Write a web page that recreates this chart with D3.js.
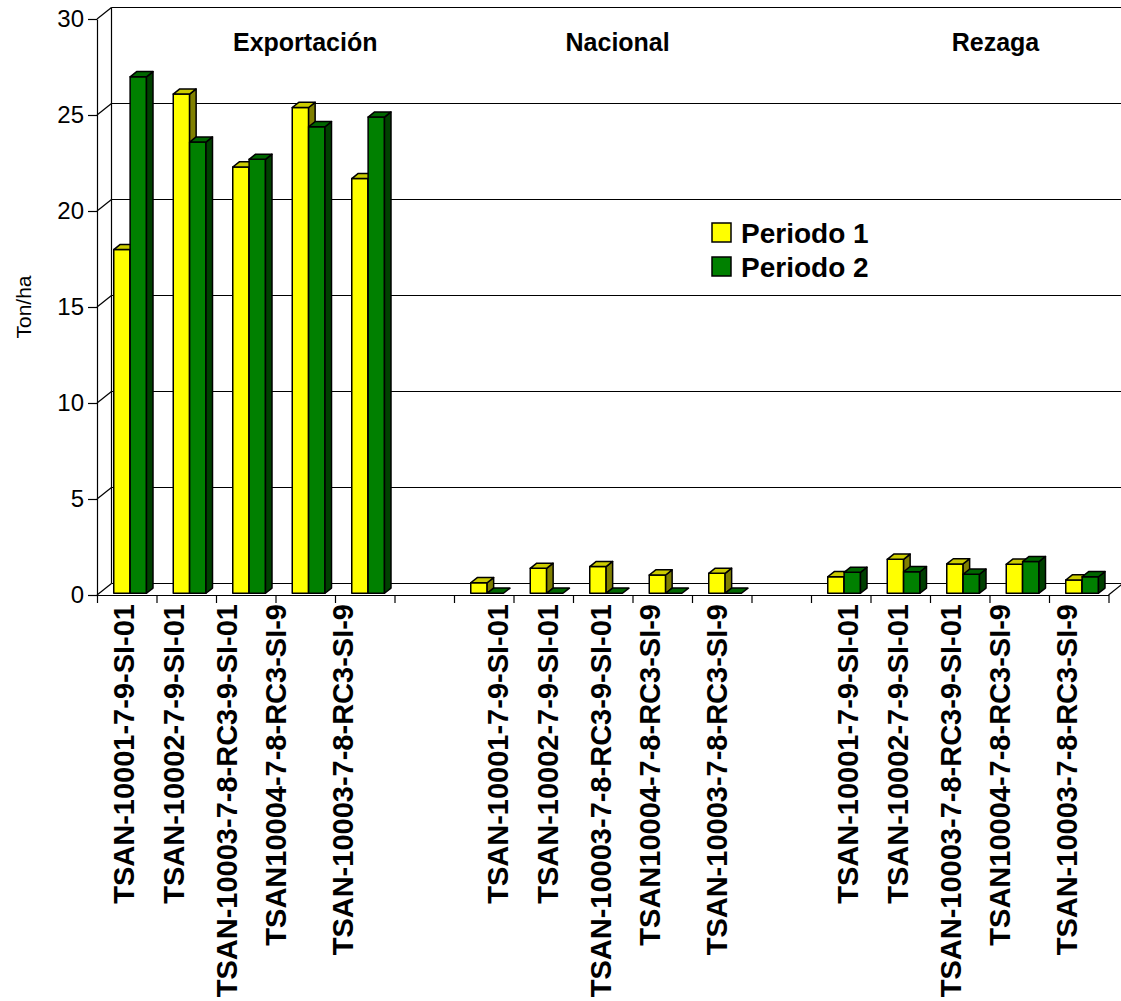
<!DOCTYPE html>
<html>
<head>
<meta charset="utf-8">
<script src="https://cdn.jsdelivr.net/npm/d3@7"></script>
<style>
  body { margin: 0; background: #fff; }
  svg { display: block; font-family: 'Liberation Sans', Arial, sans-serif; }
</style>
</head>
<body>
<div id="vis"></div>
<script>
// data
var groups = ['Exportación', 'Nacional', 'Rezaga'];
var cultivars = ['TSAN-10001-7-9-SI-01', 'TSAN-10002-7-9-SI-01', 'TSAN-10003-7-8-RC3-9-SI-01',
                 'TSAN10004-7-8-RC3-SI-9', 'TSAN-10003-7-8-RC3-SI-9'];
var seriesNames = ['Periodo 1', 'Periodo 2'];
var periodo1 = [17.9, 26.0, 22.2, 25.3, 21.6,
                0.55, 1.3, 1.39, 0.95, 1.04,
                0.86, 1.77, 1.53, 1.51, 0.69];
var periodo2 = [26.9, 23.5, 22.6, 24.3, 24.8,
                0, 0, 0, 0, 0,
                1.09, 1.12, 0.99, 1.65, 0.86];
var yTicks = [0, 5, 10, 15, 20, 25, 30];

var width = 1121, height = 1001;
var left = 97, right = 1108.5, floorY = 595, topY = 19;
var depthX = 14.5, depthY = -11.5;       // wall / floor depth
var barFront = 0.15, barBack = 0.6;      // bar depth as fraction of floor depth

// build the 17 slots (5 + gap + 5 + gap + 5)
var slots = [];
groups.forEach(function(g, gi) {
    cultivars.forEach(function(c, ci) {
        slots.push({ key: g + '|' + c, label: c, group: gi, idx: ci,
                     values: [periodo1[gi * 5 + ci], periodo2[gi * 5 + ci]] });
    });
    if (gi < groups.length - 1) slots.push({ key: 'gap' + gi, label: '', gap: true });
});

var svg = d3.select('#vis').append('svg')
            .attr('width', width)
            .attr('height', height);

var x = d3.scaleBand()
          .domain(slots.map(function(d) { return d.key; }))
          .range([left, right]);
var xs = d3.scaleLinear().domain([0, slots.length]).range([left, right]);
var y = d3.scaleLinear().domain([0, 30]).range([floorY, topY]);
var inner = d3.scaleBand().domain(seriesNames)
              .range([0.245 * x.bandwidth(), 0.795 * x.bandwidth()]);

var colors = {
    'Periodo 1': { front: '#ffff00', top: '#cccc00', side: '#808000' },
    'Periodo 2': { front: '#008000', top: '#006600', side: '#004000' }
};

// back wall gridlines
var grid = svg.append('g').attr('stroke', '#000').attr('stroke-width', 1.2).attr('fill', 'none');
grid.selectAll('line.grid').data(yTicks).enter().append('line')
    .attr('class', 'grid')
    .attr('x1', left + depthX).attr('x2', width + 2)
    .attr('y1', function(d) { return y(d) + depthY; })
    .attr('y2', function(d) { return y(d) + depthY; });
// back wall left edge
grid.append('line')
    .attr('x1', left + depthX).attr('x2', left + depthX)
    .attr('y1', y(30) + depthY).attr('y2', y(0) + depthY);
// side wall diagonals
grid.selectAll('line.diag').data(yTicks).enter().append('line')
    .attr('class', 'diag')
    .attr('x1', left).attr('y1', function(d) { return y(d); })
    .attr('x2', left + depthX).attr('y2', function(d) { return y(d) + depthY; });
// floor right edge
grid.append('line')
    .attr('x1', right).attr('y1', floorY)
    .attr('x2', right + depthX).attr('y2', floorY + depthY);

// y axis
var yAxis = d3.axisLeft(y).tickValues(yTicks).tickSize(9).tickSizeOuter(0).tickPadding(4);
var yAxisG = svg.append('g')
    .attr('transform', 'translate(' + left + ',0)')
    .call(yAxis);
yAxisG.selectAll('text').style('font-size', '24px').attr('fill', '#000');
yAxisG.selectAll('line, path').attr('stroke', '#000').attr('stroke-width', 1.2);

// x axis (ticks at slot boundaries)
var xAxis = d3.axisBottom(xs).tickValues(d3.range(slots.length + 1)).tickFormat('')
              .tickSize(8).tickSizeOuter(0);
var xAxisG = svg.append('g')
    .attr('transform', 'translate(0,' + floorY + ')')
    .call(xAxis);
xAxisG.selectAll('line, path').attr('stroke', '#000').attr('stroke-width', 1.2);

// 3d bars
var fx = barFront * depthX, fy = barFront * depthY;
var sx = (barBack - barFront) * depthX, sy = (barBack - barFront) * depthY;
var bars = [];
slots.forEach(function(s) {
    if (s.gap) return;
    seriesNames.forEach(function(n, i) {
        bars.push({ slot: s, name: n, value: s.values[i] });
    });
});

var barG = svg.append('g').attr('stroke', '#000').attr('stroke-width', 1.5)
              .attr('stroke-linejoin', 'round');
bars.forEach(function(b) {
    var x0 = x(b.slot.key) + inner(b.name) + fx;
    var x1 = x0 + inner.bandwidth();
    var y0 = y(0) + fy;
    var y1 = y(b.value) + fy;
    var c = colors[b.name];
    var g = barG.append('g');
    if (y0 - y1 > 0.5) {
        g.append('polygon').attr('fill', c.front)
         .attr('points', [[x0, y0], [x1, y0], [x1, y1], [x0, y1]].join(' '));
        g.append('polygon').attr('fill', c.side)
         .attr('points', [[x1, y0], [x1 + sx, y0 + sy], [x1 + sx, y1 + sy], [x1, y1]].join(' '));
    }
    g.append('polygon').attr('fill', c.top)
     .attr('points', [[x0, y1], [x1, y1], [x1 + sx, y1 + sy], [x0 + sx, y1 + sy]].join(' '));
});

// category labels (Excel set them slightly off centre)
var groupNudge = [-3, 14, 7];
var idxNudge = [0, -9, -16, -26, -19];
svg.append('g').selectAll('text')
    .data(slots.filter(function(d) { return !d.gap; }))
    .enter().append('text')
    .attr('transform', function(d) {
        var cx = x(d.key) + x.bandwidth() / 2 + groupNudge[d.group] + idxNudge[d.idx];
        return 'translate(' + cx + ',' + (floorY + 9) + ') rotate(-90)';
    })
    .attr('text-anchor', 'end')
    .attr('dy', '0.35em')
    .style('font-size', '29px')
    .style('font-weight', 'bold')
    .text(function(d) { return d.label; });

// group titles
var titleSlot = [3.5, 8.75, 15.1];
svg.append('g').selectAll('text')
    .data(groups)
    .enter().append('text')
    .attr('x', function(d, i) { return xs(titleSlot[i]); })
    .attr('y', 51)
    .attr('text-anchor', 'middle')
    .style('font-size', '25px')
    .style('font-weight', 'bold')
    .text(function(d) { return d; });

// y axis title
svg.append('text')
    .attr('transform', 'translate(24,' + ((y(0) + y(30)) / 2) + ') rotate(-90)')
    .attr('text-anchor', 'middle')
    .attr('dy', '0.35em')
    .style('font-size', '21px')
    .text('Ton/ha');

// legend
var legend = svg.append('g').attr('transform', 'translate(712,223)');
var item = legend.selectAll('g').data(seriesNames).enter().append('g')
    .attr('transform', function(d, i) { return 'translate(0,' + (i * 34) + ')'; });
item.append('rect')
    .attr('width', 19).attr('height', 19)
    .attr('fill', function(d) { return colors[d].front; })
    .attr('stroke', '#000').attr('stroke-width', 1.5);
item.append('text')
    .attr('x', 29).attr('y', 10)
    .attr('dy', '0.36em')
    .style('font-size', '28px')
    .style('font-weight', 'bold')
    .text(function(d) { return d; });
</script>
</body>
</html>
